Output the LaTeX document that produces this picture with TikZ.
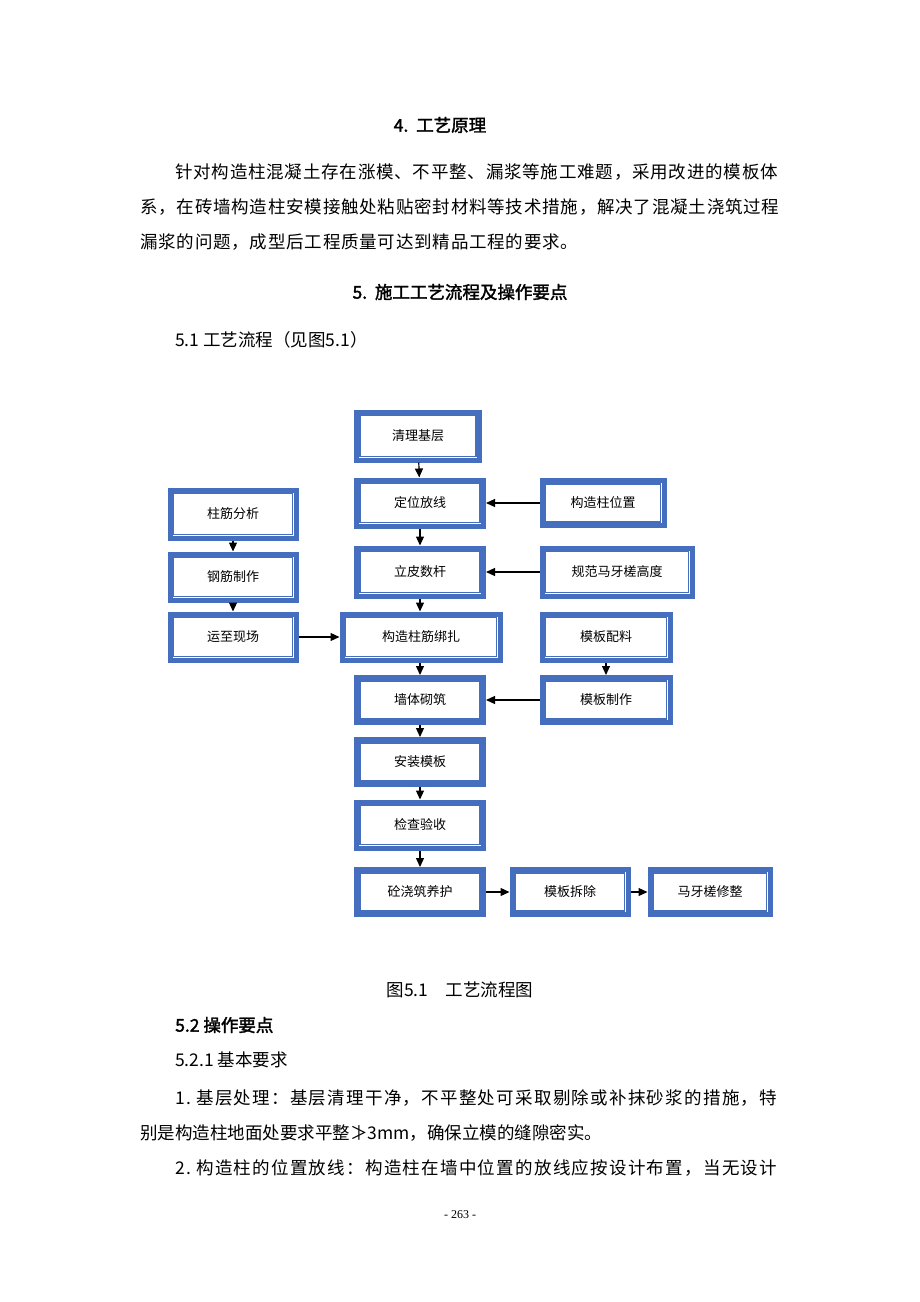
\documentclass[tikz,border=0pt]{standalone}
\usepackage{fontspec}
\setmainfont{Liberation Serif}
\newfontfamily\cjk{Noto Sans CJK SC}
\newfontfamily\cjkp{Noto Sans CJK SC}[LetterSpace=4.5]
\newfontfamily\cjkq{Noto Sans CJK SC}[LetterSpace=7.3]
\newfontfamily\cjkb{Noto Sans CJK SC}[FakeBold=2]
\usetikzlibrary{arrows.meta}
\definecolor{bxc}{RGB}{70,110,190}
\tikzset{
 bx/.style={draw=bxc,line width=5pt,fill=white,inner sep=0pt,font=\cjk\fontsize{13}{13}\selectfont},
 inbx/.style={draw=bxc,line width=1.2pt},
 ar/.style={-{Triangle[length=9pt,width=8pt]},line width=1.2pt},
 txt/.style={anchor=west,inner sep=0pt,font=\cjk\fontsize{17.5}{17.5}\selectfont}
}
\newcommand\mybx[6]{%
 \node[bx,minimum width=#4pt,minimum height=#5pt] (#1) at (#2,#3) {};
 \draw[inbx] ([xshift=6pt,yshift=-6pt]#1.north west) rectangle ([xshift=-6pt,yshift=6pt]#1.south east);
 \node[font=\cjk\fontsize{13}{13}\selectfont] at (#1) {#6};}
\begin{document}
\begin{tikzpicture}[x=1pt,y=-1pt]
\useasboundingbox[fill=white] (0,0) rectangle (920,1302);
\node[inner sep=0pt,font=\cjkb\fontsize{17.5}{17.5}\selectfont] (h4) at (440,125) {4.\ \ 工艺原理};
\node[txt,font=\cjkp\fontsize{17.5}{17.5}\selectfont] (p1) at (175,172) {针对构造柱混凝土存在涨模、不平整、漏浆等施工难题，采用改进的模板体};
\node[txt,font=\cjkp\fontsize{17.5}{17.5}\selectfont] (p2) at (140,207) {系，在砖墙构造柱安模接触处粘贴密封材料等技术措施，解决了混凝土浇筑过程};
\node[txt,font=\cjkp\fontsize{17.5}{17.5}\selectfont] (p3) at (140,242) {漏浆的问题，成型后工程质量可达到精品工程的要求。};
\node[inner sep=0pt,font=\cjkb\fontsize{17.5}{17.5}\selectfont] (h5) at (460,292) {5.\ \ 施工工艺流程及操作要点};
\node[txt] (h51) at (175,340) {5.1 工艺流程（见图5.1）};
\mybx{a}{418}{436}{123}{48}{清理基层}
\mybx{b}{420}{503}{127}{46}{定位放线}
\mybx{c}{603}{503}{122}{45}{构造柱位置}
\mybx{d}{420}{572}{127}{48}{立皮数杆}
\mybx{e}{617}{572}{150}{48}{规范马牙槎高度}
\mybx{f}{233}{514}{126}{48}{柱筋分析}
\mybx{g}{233}{577}{126}{46}{钢筋制作}
\mybx{h}{233}{637}{126}{46}{运至现场}
\mybx{i}{421}{637}{158}{46}{构造柱筋绑扎}
\mybx{j}{606}{637}{128}{46}{模板配料}
\mybx{k}{420}{700}{127}{45}{墙体砌筑}
\mybx{l}{606}{700}{128}{45}{模板制作}
\mybx{m}{420}{762}{127}{45}{安装模板}
\mybx{n}{420}{825}{127}{46}{检查验收}
\mybx{o}{420}{892}{127}{45}{砼浇筑养护}
\mybx{p}{570}{892}{116}{45}{模板拆除}
\mybx{q}{710}{892}{120}{45}{马牙槎修整}
\draw[ar] (a) -- (b);
\draw[ar] (b) -- (d);
\draw[ar] (d.south) -- (d.south |- i.north);
\draw[ar] (i.south -| k) -- (k);
\draw[ar] (k) -- (m);
\draw[ar] (m) -- (n);
\draw[ar] (n) -- (o);
\draw[ar] (c) -- (b);
\draw[ar] (e) -- (d);
\draw[ar] (f) -- (g);
\draw[ar] (g) -- (h);
\draw[ar] (h) -- (i);
\draw[ar] (j) -- (l);
\draw[ar] (l) -- (k);
\draw[ar] (o) -- (p);
\draw[ar] (p) -- (q);
\node[inner sep=0pt,font=\cjk\fontsize{17.5}{17.5}\selectfont] (cap) at (460,990) {图5.1\quad 工艺流程图};
\node[txt,font=\cjkb\fontsize{17.5}{17.5}\selectfont] (h52) at (175,1025) {5.2 操作要点};
\node[txt] (h521) at (175,1060) {5.2.1 基本要求};
\node[txt,font=\cjkq\fontsize{17.5}{17.5}\selectfont] (q1) at (175,1098) {1.\ 基层处理：基层清理干净，不平整处可采取剔除或补抹砂浆的措施，特};
\node[txt] (q2) at (140,1133) {别是构造柱地面处要求平整≯3mm，确保立模的缝隙密实。};
\node[txt,font=\cjkq\fontsize{17.5}{17.5}\selectfont] (q3) at (175,1168) {2.\ 构造柱的位置放线：构造柱在墙中位置的放线应按设计布置，当无设计};
\node[inner sep=0pt,font=\fontsize{12}{12}\selectfont] (pg) at (460,1215) {- 263 -};
\end{tikzpicture}
\end{document}
